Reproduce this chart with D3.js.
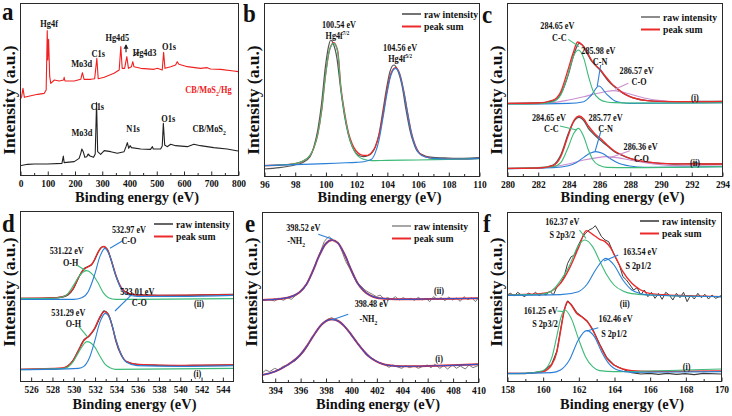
<!DOCTYPE html>
<html><head><meta charset="utf-8">
<script src="https://cdn.jsdelivr.net/npm/d3@7"></script>
<style>
body{margin:0;background:#fff}
svg{display:block}
text{font-family:"Liberation Serif","Times New Roman",serif;font-weight:bold}
</style>
</head><body>
<svg id="chart" width="732" height="416"></svg>
<script>
// ---------------- DATA ----------------
// (a) survey spectra: [binding energy eV, intensity a.u.]
const aSurveyCB = [[0,28],[28,32],[52,33],[101,33],[154,35],[159,57],[162,37],[199,40],[217,50],[223,65],[227,78],[232,70],[238,53],[245,55],[250,63],[257,57],[270,53],[276,63],[281,217],[285,70],[296,62],[309,73],[333,70],[357,65],[382,70],[389,85],[394,97],[399,80],[404,88],[409,82],[443,78],[479,77],[486,85],[489,78],[516,78],[522,87],[526,155],[531,90],[540,85],[553,92],[571,88],[614,85],[638,92],[662,88],[711,82],[760,78],[800,72]];
const aSurveyHg = [[0,225],[6,235],[11,260],[16,233],[40,238],[65,242],[89,245],[96,255],[100,433],[102,345],[105,407],[109,295],[113,275],[126,285],[144,282],[160,285],[162,293],[165,282],[199,282],[223,287],[229,307],[235,287],[260,287],[274,289],[282,350],[287,289],[309,293],[345,305],[364,315],[370,385],[375,320],[384,320],[392,355],[398,320],[409,325],[414,340],[418,325],[443,320],[492,317],[504,320],[522,315],[527,368],[532,320],[553,325],[571,330],[577,340],[583,332],[614,325],[662,320],[687,322],[699,318],[736,317],[784,312],[800,310]];
const aTicks = [0,100,200,300,400,500,600,700,800];
const aMinor = [50,150,250,350,450,550,650,750];

// (b) Hg 4f
const bRaw = [[96,21],[97,25],[98,33],[98.5,40],[99,58],[99.25,88],[99.5,138],[99.75,218],[100,328],[100.2,388],[100.34,408],[100.5,398],[100.75,353],[101,258],[101.25,178],[101.5,123],[101.75,88],[102,68],[102.25,60],[102.5,58],[102.75,61],[103,68],[103.25,88],[103.5,128],[103.75,198],[104,268],[104.2,313],[104.45,333],[104.7,318],[105,268],[105.25,198],[105.5,138],[105.75,98],[106,73],[106.5,60],[107,56],[108,54],[109,53],[110,55]];
const bSum = [[96,31],[97,33],[98,37],[98.5,44],[99,62],[99.25,85],[99.5,125],[99.75,195],[100,300],[100.25,375],[100.54,400],[100.8,375],[101,270],[101.25,190],[101.5,130],[101.75,95],[102,75],[102.25,65],[102.5,62],[102.75,62],[103,70],[103.25,88],[103.5,125],[103.75,185],[104,255],[104.25,305],[104.56,325],[104.85,305],[105.1,255],[105.35,190],[105.6,130],[105.85,92],[106.1,70],[106.5,58],[107,53],[108,51],[109,51],[110,53]];
const bPeak72 = [[96,31],[97,33],[98,37],[98.5,44],[99,62],[99.25,85],[99.5,125],[99.75,195],[100,300],[100.25,375],[100.54,398],[100.8,372],[101,265],[101.25,185],[101.5,125],[101.75,88],[102,66],[102.25,55],[102.5,50],[102.75,47],[103,46],[104,47],[106,48],[108,50],[110,52]];
const bPeak52 = [[96,31],[98,34],[100,37],[101,39],[102,41],[102.5,43],[103,50],[103.25,70],[103.5,110],[103.75,175],[104,245],[104.25,300],[104.56,323],[104.85,303],[105.1,253],[105.35,188],[105.6,128],[105.85,90],[106.1,68],[106.5,57],[107,53],[108,51],[109,51],[110,53]];
const bTicks = [96,98,100,102,104,106,108,110];
const bMinor = [97,99,101,103,105,107,109];

// (c) C 1s, (i) upper, (ii) lower
const cRawI = [[280,218],[282,219],[283,225],[283.5,246],[284,306],[284.3,356],[284.5,383],[284.7,398],[285,388],[285.2,370],[285.5,345],[285.8,330],[286,321],[286.3,303],[286.6,285],[287,268],[287.5,250],[288,238],[288.5,231],[289,227],[290,224],[291,223],[292,223],[293,224],[294,224]];
const cSumI = [[280,218],[282,219],[283,228],[283.5,253],[284,323],[284.3,368],[284.6,402],[284.9,393],[285.2,373],[285.5,348],[285.8,331],[286.1,318],[286.4,300],[286.8,278],[287.2,262],[287.6,248],[288,238],[288.5,231],[289,227],[290,224],[292,223],[294,224]];
const cCCI = [[280,216],[282,217],[283,223],[283.5,243],[284,308],[284.3,356],[284.65,378],[285,353],[285.3,300],[285.6,256],[286,231],[286.5,222],[287,220],[288,219],[290,219],[294,220]];
const cCNI = [[280,216],[284,218],[285,223],[285.5,243],[285.98,270],[286.5,245],[287,226],[287.5,220],[288,218],[294,220]];
const cCOI = [[280,216],[282,217],[283,220],[284,228],[285,238],[286,249],[286.9,256],[287.5,252],[288,246],[289,233],[290,226],[291,222],[294,220]];
const cRawII = [[280,23],[282,23],[283,33],[283.5,63],[284,128],[284.3,160],[284.5,172],[284.7,176],[285,166],[285.3,143],[285.7,123],[286.2,103],[286.6,88],[287,73],[287.5,62],[288,53],[289,42],[290,38],[291,36],[292,37],[292.3,40],[292.6,36],[294,36]];
const cSumII = [[280,23],[282,24],[283,31],[283.5,58],[284,123],[284.4,170],[284.7,180],[285,171],[285.3,150],[285.7,128],[286.2,108],[286.6,90],[287,75],[287.5,63],[288,53],[289,43],[290,38],[292,36],[294,36]];
const cCCII = [[280,22],[283,28],[283.5,40],[284,88],[284.35,128],[284.65,143],[285,118],[285.3,78],[285.6,48],[286,32],[286.5,26],[288,25],[294,28]];
const cCNII = [[280,22],[283,25],[284,31],[284.5,40],[285,56],[285.4,68],[285.77,73],[286.2,68],[286.7,53],[287.2,40],[288,30],[289,26],[294,28]];
const cCOII = [[280,22],[282,24],[283,28],[284,36],[285,48],[286,56],[286.4,58],[287,56],[288,48],[289,40],[290,34],[291,31],[294,30]];
const cTicks = [280,282,284,286,288,290,292,294];
const cMinor = [281,283,285,287,289,291,293];

// (d) O 1s, (ii) upper, (i) lower
const dRawII = [[525,248],[527,248],[528,249],[529,252],[529.5,258],[530,276],[530.5,310],[531,336],[531.3,342],[531.7,348],[532,363],[532.4,390],[532.8,403],[533.2,395],[533.5,368],[534,316],[534.5,280],[535,265],[535.5,260],[536,258],[538,257],[540,257],[542,258],[545,260]];
const dSumII = [[525,248],[528,249],[529,253],[529.5,260],[530,278],[530.5,311],[531,335],[531.4,343],[531.8,353],[532.2,378],[532.6,400],[532.9,404],[533.2,394],[533.6,360],[534,318],[534.5,280],[535,265],[536,258],[538,257],[545,259]];
const dOHII = [[525,247],[528,248],[529,252],[529.5,262],[530,286],[530.5,312],[531.22,331],[531.8,320],[532.3,296],[532.8,266],[533.3,250],[534,245],[536,245],[545,247]];
const dCOII = [[525,245],[530,245],[530.8,250],[531.4,268],[532,318],[532.5,373],[532.97,398],[533.4,378],[534,316],[534.5,276],[535,260],[536,254],[540,254],[545,257]];
const dRawI = [[525,35],[527,35],[529,38],[529.5,45],[530,63],[530.5,93],[531,123],[531.5,135],[532,156],[532.5,190],[532.9,210],[533.3,200],[533.7,160],[534,120],[534.5,78],[535,58],[536,50],[538,47],[540,46],[542,47],[545,48]];
const dSumI = [[525,35],[529,39],[529.5,46],[530,62],[530.5,92],[531,121],[531.5,136],[532,158],[532.5,192],[532.95,208],[533.3,198],[533.7,160],[534,123],[534.5,80],[535,58],[536,50],[540,47],[545,48]];
const dOHI = [[525,34],[529,37],[529.5,42],[530,58],[530.5,86],[531.29,118],[532,103],[532.5,75],[533,50],[533.5,39],[534,35],[545,38]];
const dCOI = [[525,34],[530.5,38],[531,44],[531.5,68],[532,118],[532.5,176],[533.01,203],[533.5,183],[534,125],[534.5,80],[535,56],[536,46],[540,44],[545,46]];
const dTicks = [526,528,530,532,534,536,538,540,542,544];
const dMinor = [527,529,531,533,535,537,539,541,543];

// (e) N 1s, (ii) upper, (i) lower
const eRawII = [[393,244],[393.5,248],[394,243],[394.3,251],[394.7,245],[395,253],[395.3,248],[395.7,261],[396,269],[396.3,281],[396.7,306],[397,331],[397.3,363],[397.6,391],[397.9,421],[398.1,431],[398.3,436],[398.5,428],[398.7,421],[399,419],[399.3,391],[399.6,361],[399.9,341],[400.2,316],[400.5,296],[400.8,288],[401.1,276],[401.4,269],[401.7,263],[402,256],[402.3,261],[402.6,249],[402.9,253],[403.2,248],[403.5,256],[403.8,246],[404.1,253],[404.4,248],[404.7,251],[405,245],[405.3,254],[405.6,246],[405.9,251],[406.2,241],[406.5,256],[406.8,248],[407.1,253],[407.4,244],[407.7,255],[408,246],[408.3,252],[408.6,242],[408.9,256],[409.2,247],[409.5,253],[409.8,241],[410,251]];
const eFitII = [[393,246],[394,248],[395,253],[395.5,259],[396,271],[396.5,293],[397,333],[397.5,379],[398,414],[398.52,426],[399,416],[399.5,383],[400,338],[400.5,298],[401,274],[401.5,260],[402,253],[403,249],[404,248],[406,249],[408,250],[410,251]];
const eRawI = [[393,26],[393.3,36],[393.6,31],[394,41],[394.3,36],[394.6,46],[395,51],[395.3,59],[395.6,63],[396,79],[396.3,91],[396.6,109],[397,136],[397.3,151],[397.6,171],[397.9,181],[398.2,189],[398.5,193],[398.8,186],[399.1,181],[399.4,171],[399.7,156],[400,146],[400.3,126],[400.6,111],[400.9,99],[401.2,81],[401.5,73],[401.8,69],[402.1,59],[402.4,56],[402.7,51],[403,44],[403.3,51],[403.6,46],[404,41],[404.3,49],[404.6,43],[405,48],[405.3,41],[405.6,46],[406,51],[406.3,43],[406.6,53],[407,41],[407.3,49],[407.6,39],[408,51],[408.3,41],[408.6,48],[409,39],[409.3,51],[409.6,43],[410,49]];
const eFitI = [[393,21],[394,31],[395,51],[396,81],[396.5,106],[397,136],[397.5,164],[398,182],[398.5,188],[399,183],[399.5,167],[400,143],[400.5,117],[401,93],[401.5,74],[402,62],[402.5,54],[403,50],[404,47],[406,48],[408,50],[410,53]];
const eTicks = [394,396,398,400,402,404,406,408,410];
const eMinor = [393,395,397,399,401,403,405,407,409];

// (f) S 2p, (ii) upper, (i) lower
const fRawII = [[158,258],[158.2,263],[158.4,255],[158.6,266],[158.8,258],[159,253],[159.2,264],[159.4,258],[159.6,266],[159.8,256],[160,263],[160.2,258],[160.4,270],[160.6,258],[160.8,283],[161,293],[161.2,313],[161.4,353],[161.6,373],[161.8,378],[162,408],[162.2,428],[162.4,443],[162.6,453],[162.8,458],[162.95,466],[163.1,453],[163.3,433],[163.5,423],[163.7,418],[163.9,393],[164.1,368],[164.3,348],[164.5,313],[164.7,303],[164.9,288],[165.1,273],[165.3,280],[165.5,258],[165.7,273],[165.9,253],[166.1,266],[166.3,248],[166.5,263],[166.7,245],[166.9,266],[167.1,258],[167.3,243],[167.5,263],[167.7,250],[167.9,266],[168.1,238],[168.3,258],[168.5,246],[168.7,263],[168.9,250],[169.1,260],[169.3,246],[169.5,258],[169.7,248],[170,256]];
const fSumII = [[158,258],[159,260],[160,263],[160.5,270],[161,293],[161.5,338],[162,398],[162.45,451],[162.8,440],[163.2,425],[163.5,418],[163.8,400],[164.1,370],[164.5,328],[165,293],[165.5,273],[166,263],[167,258],[168,256],[170,253]];
const f32II = [[158,258],[159,259],[160,261],[160.5,270],[161,301],[161.5,346],[162,406],[162.37,423],[162.8,403],[163.2,360],[163.6,318],[164,288],[164.5,270],[165,262],[166,258],[170,253]];
const f12II = [[158,257],[161,259],[162,268],[162.5,291],[163,336],[163.54,368],[164,348],[164.5,303],[165,273],[165.5,262],[166,258],[170,253]];
const fRawI = [[158,23],[159,22],[160,28],[160.5,50],[160.8,90],[161,153],[161.2,213],[161.4,240],[161.6,230],[161.9,206],[162.2,193],[162.5,180],[162.8,156],[163.2,110],[163.6,70],[164,48],[164.5,35],[165,25],[165.5,21],[166,23],[166.5,20],[167,23],[167.5,20],[168,22],[168.5,19],[169,23],[170,21]];
const fSumI = [[158,23],[159,23],[160,28],[160.5,48],[160.8,88],[161,148],[161.2,208],[161.38,238],[161.6,228],[161.9,203],[162.2,192],[162.5,178],[162.8,153],[163.2,108],[163.6,68],[164,48],[164.5,36],[165,31],[166,29],[170,30]];
const f32I = [[158,22],[159,23],[160,31],[160.5,68],[160.8,136],[161,186],[161.25,213],[161.6,188],[162,128],[162.4,73],[162.8,43],[163.2,31],[164,28],[166,30],[168,33],[170,36]];
const f12I = [[158,22],[160.5,25],[161,33],[161.5,63],[162,123],[162.46,151],[162.9,133],[163.3,88],[163.7,53],[164.2,33],[165,26],[170,28]];
const fTicks = [158,160,162,164,166,168,170];
const fMinor = [159,161,163,165,167,169];

// ---------------- STYLE / LAYOUT ----------------
const RAW = "#3b3b3b", RED = "#ec2a2a", GREEN = "#3dba78", BLUE = "#2a7fd6", PURPLE = "#c98fcf";
const SX = 0.88;
const NOTE_FS = 9.3;
const svg = d3.select("#chart");

function addText(g, x, y, parts, o) {
  o = o || {};
  const fs = o.fs || NOTE_FS;
  const t = g.append("text")
    .attr("transform", `translate(${x},${y}) scale(${o.sx || SX},1)`)
    .attr("text-anchor", o.anchor || "middle")
    .attr("dy", o.dy === undefined ? "0.35em" : o.dy)
    .style("font-size", fs + "px")
    .attr("fill", o.fill || "#111");
  let shift = 0;
  parts.forEach(p => {
    const s = typeof p === "string" ? { t: p } : p;
    const ts = t.append("tspan").text(s.t);
    let target = 0;
    if (s.sub) { target = fs * 0.32; ts.style("font-size", (fs * 0.68) + "px"); }
    if (s.sup) { target = -fs * 0.42; ts.style("font-size", (fs * 0.62) + "px"); }
    if (target !== shift) { ts.attr("dy", target - shift); shift = target; }
  });
  return t;
}

function panel(p) {
  const g = svg.append("g");
  const x = d3.scaleLinear().domain(p.xd).range([p.x0, p.x1]);
  const y = d3.scaleLinear().domain([0, p.ytop]).range([p.y1, p.y0]);
  const line = (smooth) => d3.line().x(d => x(d[0])).y(d => y(d[1]))
      .curve(smooth ? d3.curveMonotoneX : d3.curveLinear);
  p.series.forEach(s => {
    g.append("path").datum(s.data)
      .attr("fill", "none").attr("stroke", s.c).attr("stroke-width", s.w || 1.1)
      .attr("stroke-linejoin", "round")
      .attr("d", line(s.smooth)(s.data));
  });
  // frame
  g.append("rect").attr("x", p.x0 + 0.5).attr("y", p.y0 + 0.5)
    .attr("width", p.x1 - p.x0).attr("height", p.y1 - p.y0)
    .attr("fill", "none").attr("stroke", "#2a2a2a").attr("stroke-width", 1);
  // axis
  const ax = g.append("g").attr("transform", `translate(0.5,${p.y1 + 0.5})`)
    .call(d3.axisBottom(x).tickValues(p.ticks).tickSize(-4).tickPadding(4).tickFormat(d3.format("d")));
  ax.select(".domain").remove();
  ax.selectAll(".tick line").attr("stroke", "#2a2a2a");
  ax.selectAll("text").attr("fill", "#111").style("font-size", "10.5px")
    .attr("transform", `scale(0.9,1)`);
  const mx = g.append("g").attr("transform", `translate(0.5,${p.y1 + 0.5})`)
    .call(d3.axisBottom(x).tickValues(p.minor).tickSize(-2.5).tickFormat(""));
  mx.select(".domain").remove();
  mx.selectAll(".tick line").attr("stroke", "#2a2a2a");
  // titles
  addText(g, (p.x0 + p.x1) / 2 + 8, p.titleY, ["Binding energy (eV)"], { fs: 15, dy: 0, sx: 0.96 });
  g.append("text").attr("transform", `translate(${p.x0 - 11},${p.ylabY}) rotate(-90)`)
    .attr("text-anchor", "middle").attr("dy", "0.35em").style("font-size", "17.5px")
    .attr("fill", "#111").text("Intensity (a.u.)");
  addText(g, p.letter[0], p.letter[1], [p.letter[2]], { fs: 25, anchor: "start", dy: 0, sx: 0.92 });
  // legend
  if (p.legend) {
    const [lx, ly, rawC] = p.legend;
    [["raw intensity", rawC, 1.5], ["peak sum", RED, 2]].forEach((it, i) => {
      const yy = ly + i * 12.5;
      g.append("line").attr("x1", lx).attr("x2", lx + 19).attr("y1", yy).attr("y2", yy)
        .attr("stroke", it[1]).attr("stroke-width", it[2]);
      addText(g, lx + 22, yy, [it[0]], { fs: 11, anchor: "start" });
    });
  }
  // annotations in data space
  (p.notes || []).forEach(n => {
    addText(g, x(n.e), y(n.v), n.t, { fs: n.fs || p.noteFs || NOTE_FS, fill: n.fill });
  });
  (p.leaders || []).forEach(l => {
    g.append("line").attr("x1", x(l[0])).attr("y1", y(l[1])).attr("x2", x(l[2])).attr("y2", y(l[3]))
      .attr("stroke", l[4]).attr("stroke-width", 1.1);
  });
  return { g, x, y };
}

// ---------------- PANELS ----------------
const pa = panel({
  x0: 20, x1: 238, y0: 3, y1: 175, xd: [0, 800], ytop: 516,
  ticks: aTicks, minor: aMinor, titleY: 202, ylabY: 100, letter: [2, 20, "a"], noteFs: 9.5,
  series: [
    { data: aSurveyHg, c: "#f02020", w: 1.1 },
    { data: aSurveyCB, c: "#222", w: 1.1 }
  ],
  notes: [
    { e: 107, v: 453, t: ["Hg4f"] },
    { e: 226, v: 335, t: ["Mo3d"] },
    { e: 287, v: 365, t: ["C1s"] },
    { e: 357, v: 412, t: ["Hg4d5"] },
    { e: 457, v: 368, t: ["Hg4d3"] },
    { e: 547, v: 385, t: ["O1s"] },
    { e: 692, v: 257, t: ["CB/MoS", { t: "2", sub: true }, "/Hg"], fill: "#f02020" },
    { e: 284, v: 205, t: ["C1s"] },
    { e: 227, v: 128, t: ["Mo3d"] },
    { e: 415, v: 140, t: ["N1s"] },
    { e: 544, v: 170, t: ["O1s"] },
    { e: 694, v: 140, t: ["CB/MoS", { t: "2", sub: true }] }
  ],
  leaders: [[389, 368, 389, 390, "#222"], [416, 357, 437, 368, "#222"]]
});
// small arrowhead for Hg4d5
pa.g.append("path")
  .attr("d", `M${pa.x(389)},${pa.y(392)} l-2.5,4.5 l5,0 z`).attr("fill", "#222");

panel({
  x0: 264, x1: 479, y0: 3, y1: 176, xd: [96, 110], ytop: 519,
  ticks: bTicks, minor: bMinor, titleY: 202, ylabY: 100, letter: [243, 22, "b"],
  legend: [402, 14, "#444"],
  series: [
    { data: bRaw, c: "#555", w: 1.2, smooth: true },
    { data: bSum, c: RED, w: 1.3, smooth: true },
    { data: bPeak72, c: GREEN, w: 1.1, smooth: true },
    { data: bPeak52, c: BLUE, w: 1.1, smooth: true }
  ],
  notes: [
    { e: 100.88, v: 455, t: ["100.54 eV"] },
    { e: 100.78, v: 422, t: ["Hg4f", { t: "7/2", sup: true }] },
    { e: 104.86, v: 385, t: ["104.56 eV"] },
    { e: 104.86, v: 352, t: ["Hg4f", { t: "5/2", sup: true }] }
  ]
});

panel({
  x0: 507, x1: 722, y0: 3, y1: 176, xd: [280, 294], ytop: 519,
  ticks: cTicks, minor: cMinor, titleY: 202, ylabY: 100, letter: [482, 23, "c"],
  legend: [641, 17, "#666"],
  series: [
    { data: cRawI, c: "#555", w: 1.3, smooth: true },
    { data: cRawII, c: "#555", w: 1.3, smooth: true },
    { data: cCOI, c: PURPLE, smooth: true },
    { data: cCOII, c: PURPLE, smooth: true },
    { data: cCNI, c: BLUE, smooth: true },
    { data: cCNII, c: BLUE, smooth: true },
    { data: cCCI, c: GREEN, smooth: true },
    { data: cCCII, c: GREEN, smooth: true },
    { data: cSumI, c: RED, w: 1.3, smooth: true },
    { data: cSumII, c: RED, w: 1.3, smooth: true }
  ],
  notes: [
    { e: 283.28, v: 450, t: ["284.65 eV"] }, { e: 283.41, v: 416, t: ["C-C"] },
    { e: 285.95, v: 375, t: ["285.98 eV"] }, { e: 286.06, v: 342, t: ["C-N"] },
    { e: 288.44, v: 315, t: ["286.57 eV"] }, { e: 288.6, v: 284, t: ["C-O"] },
    { e: 292.24, v: 236, t: ["(i)"] },
    { e: 282.73, v: 175, t: ["284.65 eV"] }, { e: 282.89, v: 142, t: ["C-C"] },
    { e: 286.42, v: 175, t: ["285.77 eV"] }, { e: 286.42, v: 142, t: ["C-N"] },
    { e: 288.7, v: 87, t: ["286.36 eV"] }, { e: 288.75, v: 53, t: ["C-O"] },
    { e: 292.24, v: 40, t: ["(ii)"] }
  ],
  leaders: [
    [283.99, 410, 284.69, 388, GREEN], [286.1, 333, 285.88, 270, BLUE], [287.9, 278, 287.03, 260, PURPLE],
    [283.45, 150, 284.54, 138, GREEN], [286.1, 132, 285.73, 73, BLUE], [288.0, 76, 286.6, 53, PURPLE]
  ]
});

panel({
  x0: 20, x1: 233, y0: 211, y1: 381, xd: [525, 545], ytop: 510,
  ticks: dTicks, minor: dMinor, titleY: 409, ylabY: 292, letter: [2, 232, "d"],
  legend: [154, 224, "#333"],
  series: [
    { data: dRawII, c: RAW, w: 1.3, smooth: true },
    { data: dRawI, c: RAW, w: 1.3, smooth: true },
    { data: dSumII, c: RED, w: 1.3, smooth: true },
    { data: dSumI, c: RED, w: 1.3, smooth: true },
    { data: dOHII, c: GREEN, smooth: true },
    { data: dOHI, c: GREEN, smooth: true },
    { data: dCOII, c: BLUE, smooth: true },
    { data: dCOI, c: BLUE, smooth: true }
  ],
  notes: [
    { e: 535.23, v: 455, t: ["532.97 eV"] }, { e: 535.23, v: 422, t: ["C-O"] },
    { e: 529.38, v: 390, t: ["531.22 eV"] }, { e: 529.76, v: 355, t: ["O-H"] },
    { e: 541.81, v: 231, t: ["(ii)"] },
    { e: 536.02, v: 268, t: ["533.01 eV"] }, { e: 536.2, v: 235, t: ["C-O"] },
    { e: 529.54, v: 206, t: ["531.29 eV"] }, { e: 530.01, v: 173, t: ["O-H"] },
    { e: 541.65, v: 23, t: ["(i)"] }
  ],
  leaders: [
    [534.6, 420, 533.45, 398, BLUE], [530.32, 348, 531.2, 331, GREEN],
    [535.39, 256, 533.92, 210, BLUE], [530.54, 163, 531.32, 133, GREEN]
  ]
});

panel({
  x0: 262, x1: 478, y0: 212, y1: 382, xd: [393, 410], ytop: 510,
  ticks: eTicks, minor: eMinor, titleY: 409, ylabY: 292, letter: [245, 232, "e"],
  legend: [392, 226, "#8a8a8a"],
  series: [
    { data: eRawII, c: "#7a7a7a", w: 1 },
    { data: eRawI, c: "#7a7a7a", w: 1 },
    { data: eFitII, c: RED, w: 2, smooth: true },
    { data: eFitI, c: RED, w: 2, smooth: true },
    { data: eFitII, c: "#3b4fc4", w: 1.2, smooth: true },
    { data: eFitI, c: "#3b4fc4", w: 1.2, smooth: true }
  ],
  notes: [
    { e: 396.25, v: 463, t: ["398.52 eV"] }, { e: 395.68, v: 423, t: ["-NH", { t: "2", sub: true }] },
    { e: 406.93, v: 274, t: ["(ii)"] },
    { e: 401.63, v: 234, t: ["398.48 eV"] }, { e: 401.37, v: 189, t: ["-NH", { t: "2", sub: true }] },
    { e: 406.93, v: 69, t: ["(i)"] }
  ],
  leaders: [[397.43, 443, 398.56, 428, BLUE], [399.79, 203, 398.48, 186, BLUE]]
});

panel({
  x0: 507, x1: 721, y0: 212, y1: 381, xd: [158, 170], ytop: 507,
  ticks: fTicks, minor: fMinor, titleY: 409, ylabY: 292, letter: [483, 232, "f"],
  legend: [640, 221, "#333"],
  series: [
    { data: fRawII, c: RAW, w: 1 },
    { data: fRawI, c: RAW, w: 1.1 },
    { data: fSumII, c: RED, w: 1.4, smooth: true },
    { data: fSumI, c: RED, w: 1.4, smooth: true },
    { data: f32II, c: GREEN, smooth: true },
    { data: f32I, c: GREEN, smooth: true },
    { data: f12II, c: BLUE, smooth: true },
    { data: f12I, c: BLUE, smooth: true }
  ],
  notes: [
    { e: 161.1, v: 478, t: ["162.37 eV"] }, { e: 161.1, v: 440, t: ["S 2p3/2"] },
    { e: 165.46, v: 388, t: ["163.54 eV"] }, { e: 165.36, v: 345, t: ["S 2p1/2"] },
    { e: 164.6, v: 231, t: ["(ii)"] },
    { e: 159.89, v: 210, t: ["161.25 eV"] }, { e: 160.13, v: 171, t: ["S 2p3/2"] },
    { e: 164.09, v: 186, t: ["162.46 eV"] }, { e: 164.0, v: 143, t: ["S 2p1/2"] },
    { e: 168.07, v: 43, t: ["(i)"] }
  ],
  leaders: [
    [162.06, 453, 162.43, 428, GREEN], [164.24, 378, 163.44, 360, BLUE],
    [160.82, 210, 161.21, 208, GREEN], [163.12, 160, 162.47, 150, BLUE]
  ]
});
</script>
</body></html>
